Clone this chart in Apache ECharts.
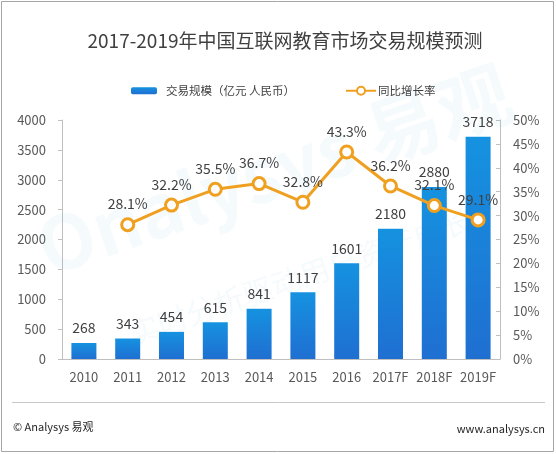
<!DOCTYPE html>
<html>
<head>
<meta charset="utf-8">
<script src="https://cdn.jsdelivr.net/npm/echarts@6/dist/echarts.min.js"></script>
<style>
html,body{margin:0;padding:0;background:#fff;}
#c{width:556px;height:454px;}
</style>
</head>
<body>
<div id="c"></div>
<script>
var categories = ['2010','2011','2012','2013','2014','2015','2016','2017F','2018F','2019F'];
var scaleValues = [268, 343, 454, 615, 841, 1117, 1601, 2180, 2880, 3718];
var growthValues = [null, 28.1, 32.2, 35.5, 36.7, 32.8, 43.3, 36.2, 32.1, 29.1];
var leftTicks = {min: 0, max: 4000, interval: 500};
var rightTicks = {min: 0, max: 50, interval: 5};
var barName = '交易规模（亿元 人民币）';
var lineName = '同比增长率';
var titleText = '2017-2019年中国互联网教育市场交易规模预测';

var FONT = '"Noto Sans CJK SC", "Noto Sans", sans-serif';
var chart = echarts.init(document.getElementById('c'), null, {renderer: 'canvas'});
var axisColor = '#bfbfbf';
var labelColor = '#595959';
var orange = '#F0A020';

chart.setOption({
  backgroundColor: '#ffffff',
  textStyle: {fontFamily: FONT},
  animation: false,
  grid: {left: 62, right: 56, top: 120, bottom: 95},
  legend: [{
    left: 126, top: 80,
    data: [barName],
    itemWidth: 26, itemHeight: 7, itemGap: 0,
    textStyle: {fontSize: 11.5, color: '#404040', fontFamily: FONT, padding: [0,0,0,4]}
  },{
    left: 340, top: 80,
    data: [lineName],
    itemWidth: 30, itemHeight: 10, itemGap: 0,
    textStyle: {fontSize: 11.5, color: '#404040', fontFamily: FONT, padding: [0,0,0,-3]}
  }],
  xAxis: {
    type: 'category',
    data: categories,
    axisLine: {lineStyle: {color: axisColor}},
    axisTick: {show: false},
    axisLabel: {color: labelColor, fontSize: 13, margin: 12, fontFamily: FONT, interval: 0}
  },
  yAxis: [{
    type: 'value',
    min: leftTicks.min, max: leftTicks.max, interval: leftTicks.interval,
    axisLine: {show: true, lineStyle: {color: axisColor}},
    axisTick: {show: true, length: 4, lineStyle: {color: axisColor}},
    splitLine: {show: false},
    axisLabel: {color: labelColor, fontSize: 13, margin: 16, fontFamily: FONT,
                formatter: function(v){ return String(v); }}
  },{
    type: 'value',
    min: rightTicks.min, max: rightTicks.max, interval: rightTicks.interval,
    position: 'right',
    axisLine: {show: true, lineStyle: {color: axisColor}},
    axisTick: {show: true, inside: true, length: 4, lineStyle: {color: axisColor}},
    splitLine: {show: false},
    axisLabel: {color: labelColor, fontSize: 13, margin: 13, fontFamily: FONT, formatter: '{value}%'}
  }],
  graphic: [
    {type: 'rect', z: 0, shape: {x: 1.5, y: 1.5, width: 552, height: 450},
     style: {fill: 'none', stroke: '#a6a6a6', lineWidth: 1}},
    {type: 'text', z: 1, x: 40, y: 250, rotation: 0.33,
     style: {text: 'Onalysys 易观', font: 'bold 74px ' + FONT, fill: 'rgba(120,180,230,0.07)', textVerticalAlign: 'middle'}},
    {type: 'text', z: 1, x: 130, y: 335, rotation: 0.33,
     style: {text: '实时分析驱动用户资产成长', font: '30px ' + FONT, fill: 'rgba(120,180,230,0.07)', textVerticalAlign: 'middle'}},
    {type: 'text', z: 5, x: 285, y: 41,
     style: {text: titleText, font: '19px ' + FONT, fill: '#404040', textAlign: 'center', textVerticalAlign: 'middle'}},
    {type: 'line', z: 5, shape: {x1: 12, y1: 402.5, x2: 545, y2: 402.5},
     style: {stroke: '#c8c8c8', lineWidth: 1}},
    {type: 'text', z: 5, x: 13, y: 427,
     style: {text: '© Analysys 易观', font: '11px ' + FONT, fill: '#262626', textVerticalAlign: 'middle'}},
    {type: 'text', z: 5, x: 545, y: 429,
     style: {text: 'www.analysys.cn', font: '11px ' + FONT, fill: '#262626', textAlign: 'right', textVerticalAlign: 'middle'}}
  ],
  series: [{
    name: barName,
    type: 'bar',
    data: scaleValues,
    barWidth: 25,
    z: 2,
    itemStyle: {
      color: new echarts.graphic.LinearGradient(0, 0, 0, 1, [
        {offset: 0, color: '#1592e0'},
        {offset: 1, color: '#1f6fd1'}
      ])
    },
    label: {show: true, position: 'top', distance: 8, color: '#404040', fontSize: 14, fontFamily: FONT}
  },{
    name: lineName,
    type: 'line',
    yAxisIndex: 1,
    data: growthValues,
    z: 3,
    symbol: 'circle',
    symbolSize: 12,
    lineStyle: {color: orange, width: 3},
    itemStyle: {color: '#ffffff', borderColor: orange, borderWidth: 3},
    label: {show: true, position: 'top', distance: 6, color: '#404040', fontSize: 14, fontFamily: FONT,
            formatter: function(p){ return p.value.toFixed(1) + '%'; }}
  }]
});
</script>
</body>
</html>
